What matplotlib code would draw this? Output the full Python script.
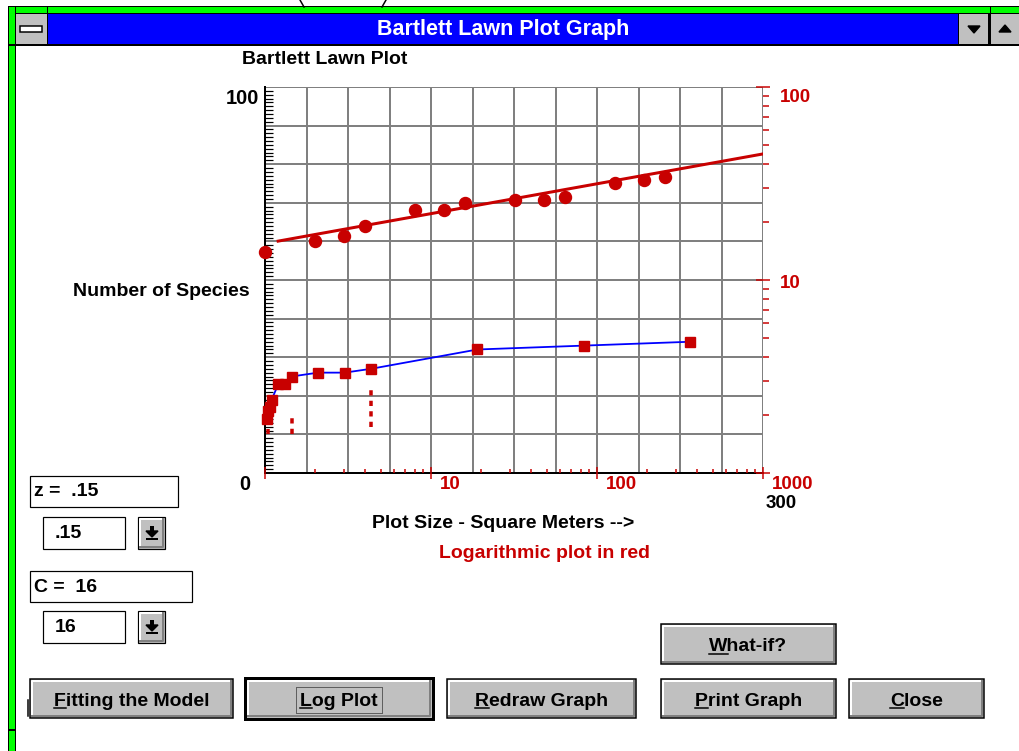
import matplotlib
matplotlib.use("Agg")
import matplotlib.pyplot as plt
import numpy as np
from matplotlib import font_manager
from matplotlib.patches import Rectangle, Polygon
from matplotlib.transforms import offset_copy, blended_transform_factory

# data (area in m^2, number of species)
area = [1, 2, 3, 4, 8, 12, 16, 32, 48, 64, 128, 192, 256]
species = [14, 16, 17, 19, 23, 23, 25, 26, 26, 27, 32, 33, 34]

# fitted line on the log plot (ends)
fit_area = [1.2, 1000]
fit_species = [15.9, 45.0]

# leftover red dotted marks under some points (linear plot)
resid_area = [2, 16, 64]
resid_lo = [10, 10, 12]
resid_hi = [11.5, 15, 22]

z_text = ".15"
c_text = "16"

RED = "#c80000"
BLUE = "#0000ff"
GRID = "#808080"
GRAY = "#c0c0c0"
DARK = "#808080"
GREEN = "#00ff00"

def have(name):
    try:
        font_manager.findfont(name, fallback_to_default=False)
        return True
    except Exception:
        return False

SANS = "Liberation Sans" if have("Liberation Sans") else "DejaVu Sans"
NARROW = "Liberation Sans Narrow" if have("Liberation Sans Narrow") else SANS

W, H = 1020, 751
PX = 0.72  # points per pixel at dpi 100

fig = plt.figure(figsize=(W / 100, H / 100), dpi=100)
bg = fig.add_axes([0, 0, 1, 1])
bg.set_xlim(0, W)
bg.set_ylim(H, 0)
bg.axis("off")


def rect(x0, y0, x1, y1, fc, ec="none", lw=0, z=1, ls="-"):
    bg.add_patch(Rectangle((x0, y0), x1 - x0, y1 - y0, facecolor=fc,
                           edgecolor=ec, linewidth=lw * PX, zorder=z, linestyle=ls))


# ---- window frame ----
rect(8, 6, W, 46, "black")
rect(9, 7, W, 13, GREEN)
rect(47, 7, 48, 13, "black")
rect(990, 7, 991, 13, "black")
rect(8, 6, 16, H, "black")
rect(9, 7, 15, 44, GREEN)
rect(9, 46, 15, 729, GREEN)
rect(9, 731, 15, H, GREEN)
rect(16, 14, 47, 44, GRAY)
rect(48, 14, 958, 44, BLUE)
rect(959, 14, 988, 44, GRAY)
rect(991, 14, W, 44, GRAY)
rect(20, 26, 42, 32, "white", ec="black", lw=1.5, z=2)
bg.add_patch(Polygon([(968, 26), (980, 26), (974, 33)], color="black", zorder=2))
bg.add_patch(Polygon([(999, 32), (1011, 32), (1005, 25)], color="black", zorder=2))
bg.plot([300, 304], [0, 7], color="black", lw=1.5 * PX)
bg.plot([386, 382], [0, 7], color="black", lw=1.5 * PX)
bg.text(503, 30, "Bartlett Lawn Plot Graph", color="white", ha="center",
        va="center", fontsize=15.5, fontweight="bold", family=NARROW)

# ---- labels around the graph ----
lab = dict(fontsize=14, fontweight="bold", family=SANS)
bg.text(325, 60, "Bartlett Lawn Plot", ha="center", va="center", **lab)
bg.text(161, 292, "Number of Species", ha="center", va="center", **lab)
bg.text(503, 524, "Plot Size - Square Meters -->", ha="center", va="center", **lab)
bg.text(545, 553, "Logarithmic plot in red", ha="center", va="center", color=RED, **lab)
num = dict(fontsize=14.5, fontweight="bold", family=SANS)
bg.text(259, 98, "100", ha="right", va="center", **num)
bg.text(250, 485, "0", ha="right", va="center", **num)
bg.text(781, 503, "300", ha="center", va="center", fontsize=13.5,
        fontweight="bold", family=SANS)

# ---- linear plot (blue) ----
box = [265 / W, 1 - 473 / H, 498 / W, 386 / H]
ax = fig.add_axes(box)
ax.set_xlim(0, 300)
ax.set_ylim(0, 100)
ax.set_xticks(np.linspace(0, 300, 13))
ax.set_yticks(np.arange(0, 101, 10))
ax.set_yticks(np.arange(0, 101, 1), minor=True)
ax.grid(True, which="major", color=GRID, lw=2 * PX)
ax.tick_params(which="major", length=0, labelbottom=False, labelleft=False)
ax.tick_params(axis="y", which="minor", direction="in", length=8 * PX,
               width=1.2 * PX, color="black")
ax.tick_params(axis="x", which="minor", length=0)
for s in ["top", "right"]:
    ax.spines[s].set_visible(False)
for s in ["left", "bottom"]:
    ax.spines[s].set_linewidth(2 * PX)
ax.plot(area, species, color=BLUE, lw=1.8 * PX, zorder=3)
ax.plot(area, species, "s", color=RED, ms=10 * PX, zorder=4, clip_on=False)
ax.vlines(resid_area, resid_lo, resid_hi, colors=RED, lw=3.5 * PX,
          linestyles=(0, (1.5, 1.5)), zorder=4)

# ---- log plot (red) ----
lax = fig.add_axes(box)
lax.patch.set_alpha(0)
lax.set_xscale("log")
lax.set_yscale("log")
lax.set_xlim(1, 1000)
lax.set_ylim(1, 100)
for s in lax.spines.values():
    s.set_visible(False)
lax.yaxis.tick_right()
lax.tick_params(axis="x", which="major", direction="inout", length=12 * PX,
                width=1.5 * PX, color=RED, labelbottom=False)
lax.tick_params(axis="x", which="minor", direction="in", length=4 * PX,
                width=1.5 * PX, color=RED, labelbottom=False)
lax.tick_params(axis="y", which="major", direction="inout", length=14 * PX,
                width=1.5 * PX, color=RED, labelright=False, labelleft=False)
lax.tick_params(axis="y", which="minor", direction="out", length=6 * PX,
                width=1.5 * PX, color=RED, labelright=False, labelleft=False)
lax.plot(fit_area, fit_species, color=RED, lw=3 * PX, zorder=3)
lax.plot(area, species, "o", color=RED, ms=12 * PX, zorder=4, clip_on=False)

tx = blended_transform_factory(lax.transData, lax.transAxes)
for v in [10, 100, 1000]:
    lax.text(v, 0, str(v), transform=offset_copy(tx, fig=fig, x=9, y=-3, units="dots"),
             ha="left", va="top", color=RED, fontsize=13.5, fontweight="bold",
             family=SANS, clip_on=False)
ty = blended_transform_factory(lax.transAxes, lax.transData)
for v, dy in [(10, -3), (100, -10)]:
    lax.text(1, v, str(v), transform=offset_copy(ty, fig=fig, x=17, y=dy, units="dots"),
             ha="left", va="center", color=RED, fontsize=13.5, fontweight="bold",
             family=SANS, clip_on=False)

# ---- edit boxes ----
small = dict(fontsize=14, fontweight="bold", family=SANS, va="center")
rect(30, 476, 178, 507, "white", ec="black", lw=1.2, z=2)
bg.text(34, 492, "z =  " + z_text, zorder=3, **small)
rect(43, 517, 125, 549, "white", ec="black", lw=1.2, z=2)
bg.text(55, 533, z_text, zorder=3, **small)
rect(30, 571, 192, 602, "white", ec="black", lw=1.2, z=2)
bg.text(34, 587, "C =  " + c_text, zorder=3, **small)
rect(43, 611, 125, 643, "white", ec="black", lw=1.2, z=2)
bg.text(55, 627, c_text, zorder=3, **small)


def drop(y0, y1):
    rect(138, y0, 165, y1, GRAY, ec="black", lw=1.2, z=2)
    bg.plot([140, 140, 162], [y1 - 2, y0 + 2, y0 + 2], color="white", lw=2 * PX, zorder=3)
    bg.plot([140, 163, 163], [y1 - 2, y1 - 2, y0 + 2], color=DARK, lw=2 * PX, zorder=3)
    cy = (y0 + y1) / 2
    rect(150, cy - 7, 154, cy - 2, "black", z=4)
    bg.add_patch(Polygon([(146, cy - 2), (158, cy - 2), (152, cy + 4)], color="black", zorder=4))
    rect(146, cy + 5, 158, cy + 7, "black", z=4)


drop(517, 549)
drop(611, 643)

# ---- buttons ----
buttons = [
    (30, 679, 233, 718, "Fitting the Model", False),
    (245, 678, 433, 719, "Log Plot", True),
    (447, 679, 636, 718, "Redraw Graph", False),
    (661, 679, 836, 718, "Print Graph", False),
    (849, 679, 984, 718, "Close", False),
    (661, 624, 836, 664, "What-if?", False),
]
btxt = []
for x0, y0, x1, y1, label, default in buttons:
    rect(x0, y0, x1, y1, GRAY, ec="black", lw=3 if default else 1.5, z=2)
    d = 3 if default else 2
    bg.plot([x0 + d, x0 + d, x1 - d], [y1 - d, y0 + d, y0 + d], color="white", lw=2 * PX, zorder=3)
    bg.plot([x0 + d, x1 - d, x1 - d], [y1 - d, y1 - d, y0 + d], color=DARK, lw=2 * PX, zorder=3)
    base = (y0 + y1) / 2 + 7
    t = bg.text((x0 + x1) / 2, base, label, ha="center", va="baseline", fontsize=14,
                fontweight="bold", family=NARROW, zorder=4)
    btxt.append((t, label, base, default))
bg.plot([28, 28], [700, 716], color="black", lw=1.5 * PX)

# underline the access letters
fig.canvas.draw()
r = fig.canvas.get_renderer()
inv = bg.transData.inverted()
for t, label, base, default in btxt:
    bb = t.get_window_extent(r)
    tmp = bg.text(0, 0, label[0], fontsize=14, fontweight="bold", family=NARROW)
    w1 = tmp.get_window_extent(r).width
    tmp.remove()
    xa = inv.transform((bb.x0, 0))[0]
    xb = inv.transform((bb.x0 + w1, 0))[0]
    bg.plot([xa, xb], [base + 2.5, base + 2.5], color="black", lw=1.5 * PX, zorder=4)
    if default:
        xl = inv.transform((bb.x0 - 4, 0))[0]
        xr = inv.transform((bb.x1 + 4, 0))[0]
        rect(xl, base - 19, xr, base + 7, "none", ec="black", lw=1, z=4, ls=(0, (1, 1)))

fig.savefig("out.png", dpi=100)
